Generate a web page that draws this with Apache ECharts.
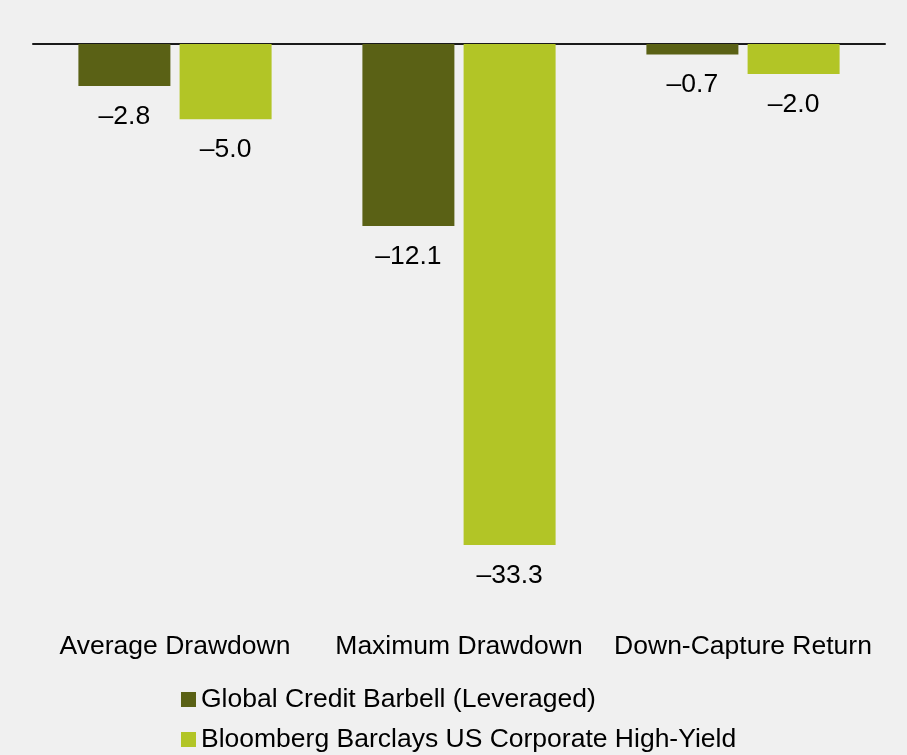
<!DOCTYPE html>
<html>
<head>
<meta charset="utf-8">
<script src="https://cdn.jsdelivr.net/npm/echarts@6/dist/echarts.min.js"></script>
<style>
  html, body { margin: 0; padding: 0; background: #f0f0f0; }
  #chart { width: 907px; height: 755px; }
</style>
</head>
<body>
<div id="chart"></div>
<script>
// Drawdown statistics, in percent
const categories = ['Average Drawdown', 'Maximum Drawdown', 'Down-Capture Return'];
const seriesNames = ['Global Credit Barbell (Leveraged)', 'Bloomberg Barclays US Corporate High-Yield'];
const barbellValues = [-2.8, -12.1, -0.7];
const highYieldValues = [-5.0, -33.3, -2.0];

const DARK = '#5a6115';
const LIGHT = '#b2c526';
const FONT = '"Liberation Sans", Arial, sans-serif';
const FONT_SIZE = 26.5;

// Negative numbers are shown with an en dash
const fmt = p => '\u2013' + Math.abs(p.value).toFixed(1);

const labelStyle = {
  show: true,
  position: 'bottom',
  distance: 17,
  formatter: fmt,
  color: '#000',
  fontFamily: FONT,
  fontSize: FONT_SIZE
};

const chart = echarts.init(document.getElementById('chart'), null, { renderer: 'canvas' });
chart.setOption({
  backgroundColor: '#f0f0f0',
  animation: false,
  grid: { left: 33, right: 22, top: 44, height: 541.6, containLabel: false },
  legend: {
    orient: 'vertical',
    left: 181,
    top: 686,
    height: 120,
    padding: 0,
    itemWidth: 15,
    itemHeight: 15,
    itemGap: 13,
    icon: 'rect',
    textStyle: { fontFamily: FONT, fontSize: FONT_SIZE, color: '#000' },
    data: seriesNames
  },
  xAxis: [
    {
      // zero line across the top
      type: 'category',
      data: categories,
      axisLine: { show: true, onZero: true, lineStyle: { color: '#1a1a1a', width: 2 } },
      axisTick: { show: false },
      axisLabel: { show: false }
    },
    {
      // category names along the bottom
      type: 'category',
      data: categories,
      position: 'bottom',
      axisLine: { show: false, onZero: false },
      axisTick: { show: false },
      axisLabel: { show: true, interval: 0, margin: 48, color: '#000', fontFamily: FONT, fontSize: FONT_SIZE }
    }
  ],
  yAxis: {
    type: 'value',
    min: -36,
    max: 0,
    show: false,
    splitLine: { show: false }
  },
  series: [
    {
      name: seriesNames[0],
      type: 'bar',
      xAxisIndex: 0,
      data: barbellValues,
      barWidth: 92,
      barGap: '10%',
      itemStyle: { color: DARK },
      label: labelStyle
    },
    {
      name: seriesNames[1],
      type: 'bar',
      xAxisIndex: 0,
      data: highYieldValues,
      barWidth: 92,
      barGap: '10%',
      itemStyle: { color: LIGHT },
      label: labelStyle
    }
  ]
});
</script>
</body>
</html>
